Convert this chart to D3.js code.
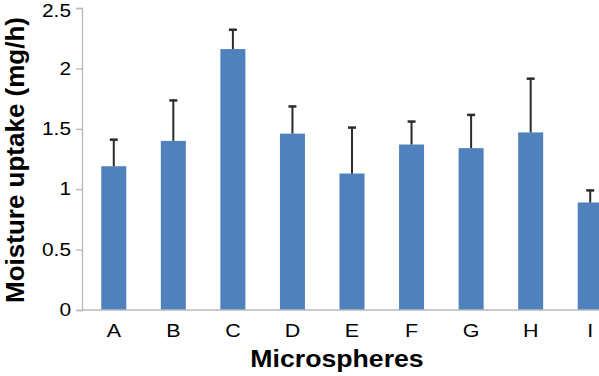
<!DOCTYPE html>
<html>
<head>
<meta charset="utf-8">
<script src="https://cdn.jsdelivr.net/npm/d3@7"></script>
<style>
  body { margin: 0; background: #fff; }
  text { font-family: "Liberation Sans", Arial, sans-serif; }
</style>
</head>
<body>
<svg id="chart" width="599" height="376"></svg>
<script>
// data
let categories = ["A", "B", "C", "D", "E", "F", "G", "H", "I"];
let uptake = [1.19, 1.40, 2.16, 1.46, 1.13, 1.37, 1.34, 1.47, 0.89];
let errTop = [1.41, 1.735, 2.32, 1.685, 1.51, 1.56, 1.615, 1.915, 0.99];
let yTicks = [0, 0.5, 1, 1.5, 2, 2.5];

let svg = d3.select("#chart");
let stretch = 1.16; // the source figure is a bit wider than tall

let x = d3.scaleBand()
    .domain(categories)
    .range([84, 620])
    .paddingInner(0.58)
    .paddingOuter(0.29);

let y = d3.scaleLinear()
    .domain([0, 2.5])
    .range([310, 8]);

// bars
svg.append("g").selectAll("rect")
    .data(categories)
    .enter().append("rect")
    .attr("x", d => x(d))
    .attr("y", (d, i) => y(uptake[i]))
    .attr("width", x.bandwidth())
    .attr("height", (d, i) => y(0) - y(uptake[i]))
    .style("fill", "#4f81bd");

// error bars (upper only)
let err = svg.append("g").style("stroke", "#2b2b2b").style("stroke-width", 2);
categories.forEach(function(d, i) {
    let cx = x(d) + x.bandwidth() / 2;
    err.append("line")
        .attr("x1", cx).attr("x2", cx)
        .attr("y1", y(uptake[i])).attr("y2", y(errTop[i]));
    err.append("line")
        .attr("x1", cx - 4).attr("x2", cx + 4)
        .attr("y1", y(errTop[i])).attr("y2", y(errTop[i]))
        .style("stroke-width", 2.5);
});

// y axis
let yAxis = d3.axisLeft(y).tickValues(yTicks).tickSize(6).tickPadding(6)
    .tickFormat(d => d);
let yg = svg.append("g")
    .attr("transform", "translate(82,0)")
    .call(yAxis);
yg.selectAll("line, path").style("stroke", "#b8b8b8").style("stroke-width", 1.3);
yg.selectAll("text")
    .attr("x", -11 / stretch)
    .attr("transform", "scale(" + stretch + ",1)")
    .style("font-size", "18px").style("fill", "#000")
    .style("font-family", "'Liberation Sans', Arial, sans-serif");
// top label sits a little lower so it stays inside the frame
yg.selectAll("text").filter(d => d === 2.5).attr("y", 2.5);

// x axis
let xg = svg.append("g")
    .attr("transform", "translate(0,310)")
    .call(d3.axisBottom(x).tickSize(0).tickPadding(14));
xg.select("path").attr("d", "M82,0H620").style("stroke", "#b8b8b8").style("stroke-width", 1.3);
xg.selectAll("text")
    .attr("transform", "scale(" + stretch + ",1)")
    .style("font-size", "18.5px").style("fill", "#000")
    .style("font-family", "'Liberation Sans', Arial, sans-serif");

// axis titles
svg.append("text")
    .attr("transform", "translate(337,367) scale(" + stretch + ",1)")
    .attr("text-anchor", "middle")
    .style("font-size", "23px")
    .style("font-weight", "bold")
    .text("Microspheres");

svg.append("text")
    .attr("transform", "translate(24,160) rotate(-90)")
    .attr("text-anchor", "middle")
    .style("font-size", "26px")
    .style("font-weight", "bold")
    .text("Moisture uptake (mg/h)");
</script>
</body>
</html>
